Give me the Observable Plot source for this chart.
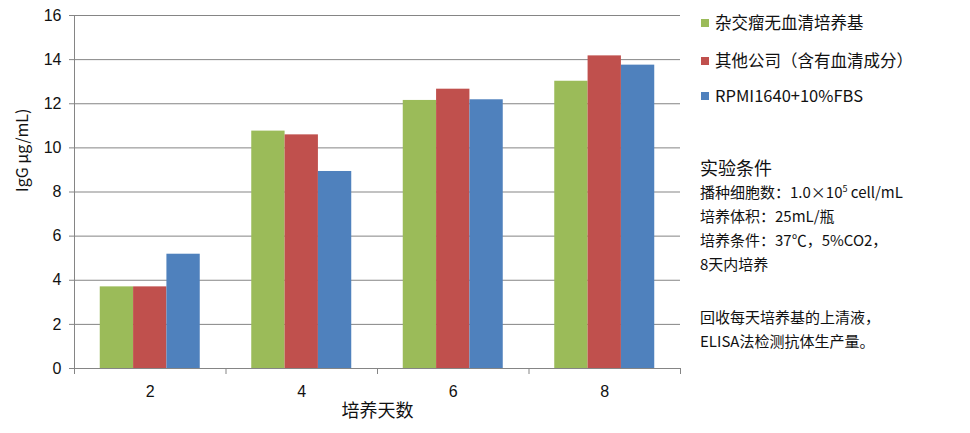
<!DOCTYPE html>
<html>
<head>
<meta charset="utf-8">
<script src="https://cdn.jsdelivr.net/npm/d3@7"></script>
<script src="https://cdn.jsdelivr.net/npm/@observablehq/plot@0.6"></script>
<style>
  html, body { margin: 0; padding: 0; background: #fff; }
  #wrap { position: relative; width: 970px; height: 433px; overflow: hidden; font-family: "Noto Sans CJK SC", "Noto Sans", sans-serif; color: #111; }
  #chart { position: absolute; left: 0; top: 0; }
  #legend { position: absolute; left: 700px; top: 0; }
  .lg { position: absolute; left: 0; white-space: nowrap; font-size: 16.5px; line-height: 20px; }
  .sw { position: absolute; left: 1px; width: 8px; height: 8px; }
  .lt { position: absolute; left: 15px; }
  #info { position: absolute; left: 700px; top: 154px; font-size: 15px; line-height: 24px; white-space: nowrap; }
  #info .h { font-size: 18px; line-height: 26px; }
  #info sup { font-size: 9px; vertical-align: 6px; line-height: 0; }
</style>
</head>
<body>
<div id="wrap">
  <div id="chart"></div>
  <div id="legend"></div>
  <div id="info">
    <div class="h">实验条件</div>
    <div>播种细胞数：1.0×10<sup>5</sup> cell/mL</div>
    <div>培养体积：25mL/瓶</div>
    <div>培养条件：37℃，5%CO2，</div>
    <div>8天内培养</div>
    <div>&nbsp;</div>
    <div style="margin-top:5px">回收每天培养基的上清液，</div>
    <div>ELISA法检测抗体生产量。</div>
  </div>
</div>
<script>
const days = [2, 4, 6, 8];
const seriesNames = ["杂交瘤无血清培养基", "其他公司（含有血清成分）", "RPMI1640+10%FBS"];
const seriesColors = ["#9BBB59", "#C0504D", "#4F81BD"];
const serumFree = [3.70, 10.76, 12.15, 13.02];
const otherCompany = [3.70, 10.59, 12.66, 14.17];
const rpmi = [5.18, 8.93, 12.18, 13.75];
const yTicks = [0, 2, 4, 6, 8, 10, 12, 14, 16];
const dayBounds = [1, 3, 5, 7, 9];
const yLabel = "IgG μg/mL)";
const xLabel = "培养天数";

const seriesValues = [serumFree, otherCompany, rpmi];
const data = [];
seriesValues.forEach((vals, s) => vals.forEach((v, i) => data.push({day: days[i], series: seriesNames[s], s, value: v})));

const W = 690, H = 433, mL = 74, mR = 10, mT = 15, mB = 65;
const step = (W - mL - mR) / days.length;   // px per day band
const outer = step * 0.17;
const barW = (step - 2 * outer) / 3;
const numFont = "Liberation Sans, Arial, sans-serif";

const marks = [
  Plot.ruleY(yTicks, {stroke: "#858585", strokeWidth: 1}),
  Plot.ruleX([dayBounds[0]], {stroke: "#858585"}),
  Plot.axisY(yTicks, {tickSize: 5, tickPadding: 8, stroke: "#858585", fontSize: 16, fill: "#111", fontFamily: numFont, label: null}),
  Plot.axisX(dayBounds, {tickSize: 6, tickFormat: () => "", stroke: "#858585", label: null}),
  Plot.axisX(days, {tickSize: 0, tickPadding: 17, fontSize: 16, fill: "#111", fontFamily: numFont, label: null}),
];
seriesNames.forEach((name, s) => {
  marks.push(Plot.rectY(data.filter(d => d.s === s), {
    x1: d => d.day - 1, x2: d => d.day + 1, y1: 0, y2: "value",
    fill: seriesColors[s],
    insetLeft: outer + s * barW,
    insetRight: step - outer - (s + 1) * barW
  }));
});
marks.push(
  Plot.text([yLabel], {text: d => d, frameAnchor: "left", rotate: -90, dx: -52, fontSize: 16, fill: "#111", fontFamily: "Noto Sans CJK SC"}),
  Plot.text([xLabel], {text: d => d, frameAnchor: "bottom", dy: 48, fontSize: 18, fill: "#111", fontFamily: "Noto Sans CJK SC"})
);

const chart = Plot.plot({
  width: W, height: H,
  marginLeft: mL, marginRight: mR, marginTop: mT, marginBottom: mB,
  x: {type: "linear", domain: [dayBounds[0], dayBounds[dayBounds.length - 1]], axis: null},
  y: {domain: [0, 16], axis: null},
  style: {background: "transparent", overflow: "visible"},
  marks
});
document.getElementById("chart").appendChild(chart);

const legendTops = [12, 50, 85];
const lg = document.getElementById("legend");
seriesNames.forEach((name, i) => {
  const row = document.createElement("div");
  row.className = "lg";
  row.style.top = legendTops[i] + "px";
  row.innerHTML = `<span class="sw" style="top:7px;background:${seriesColors[i]}"></span><span class="lt">${name}</span>`;
  lg.appendChild(row);
});
</script>
</body>
</html>
